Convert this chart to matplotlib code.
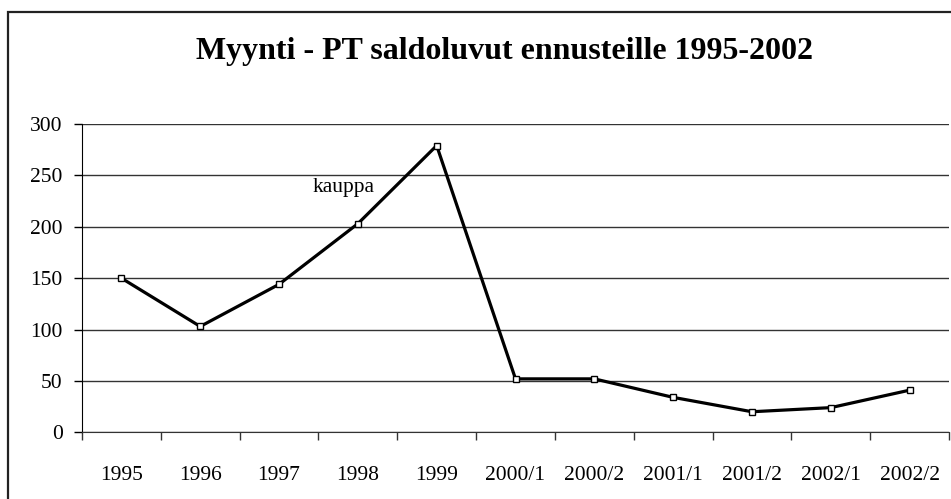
import matplotlib
matplotlib.use("Agg")
import matplotlib.pyplot as plt
from matplotlib.patches import Rectangle


# ---------------- DATA ---------------- #

periods = ["1995", "1996", "1997", "1998", "1999", "2000/1",
           "2000/2", "2001/1", "2001/2", "2002/1", "2002/2"]

kauppa = [150, 103, 144, 203, 279, 52, 52, 34, 20, 24, 41]

y_ticks = [0, 50, 100, 150, 200, 250, 300]


# ---------------- FIGURE ---------------- #

plt.rcParams["font.family"] = ["Liberation Serif", "DejaVu Serif"]

fig = plt.figure(figsize=(9.51, 4.99), dpi=100)
fig.patch.set_facecolor("white")

# outer chart frame (cut off at right and bottom like the original)
frame = Rectangle(
    (8 / 951, -0.05),
    1.2,
    1.05 - 12 / 499,
    transform=fig.transFigure,
    fill=False,
    edgecolor="#222222",
    linewidth=1.6
)
fig.patches.append(frame)

ax = fig.add_axes([82 / 951, (499 - 432.3) / 499,
                   (949 - 82) / 951, (432.3 - 124) / 499])

x = list(range(len(periods)))

ax.plot(
    x,
    kauppa,
    color="black",
    linewidth=2.3,
    marker="s",
    markersize=4,
    markerfacecolor="white",
    markeredgecolor="black",
    markeredgewidth=1,
    zorder=5
)

ax.text(
    2.43,
    238,
    "kauppa",
    fontsize=15.5,
    va="center",
    ha="left"
)

# ---------------- AXES ---------------- #

ax.set_xlim(-0.5, len(periods) - 0.5)
ax.set_ylim(0, 300)

ax.set_yticks(y_ticks)
ax.set_yticklabels([str(v) for v in y_ticks])

ax.set_xticks(x)
ax.set_xticklabels(periods)
ax.set_xticks([i - 0.5 for i in range(len(periods) + 1)], minor=True)

ax.tick_params(axis="x", which="major", length=0, pad=24, labelsize=15.5)
ax.tick_params(axis="x", which="minor", length=6, width=1, color="#333333")
ax.tick_params(axis="y", length=6, width=1, pad=8, labelsize=15.5)

ax.grid(axis="y", color="#333333", linewidth=1)
ax.set_axisbelow(True)

for side in ["top", "right"]:
    ax.spines[side].set_visible(False)

ax.spines["left"].set_color("black")
ax.spines["bottom"].set_color("#333333")

fig.text(
    505 / 951,
    1 - 51 / 499,
    "Myynti - PT saldoluvut ennusteille 1995-2002",
    fontsize=23,
    fontweight="bold",
    ha="center",
    va="center"
)

plt.savefig("out.png", dpi=100)
